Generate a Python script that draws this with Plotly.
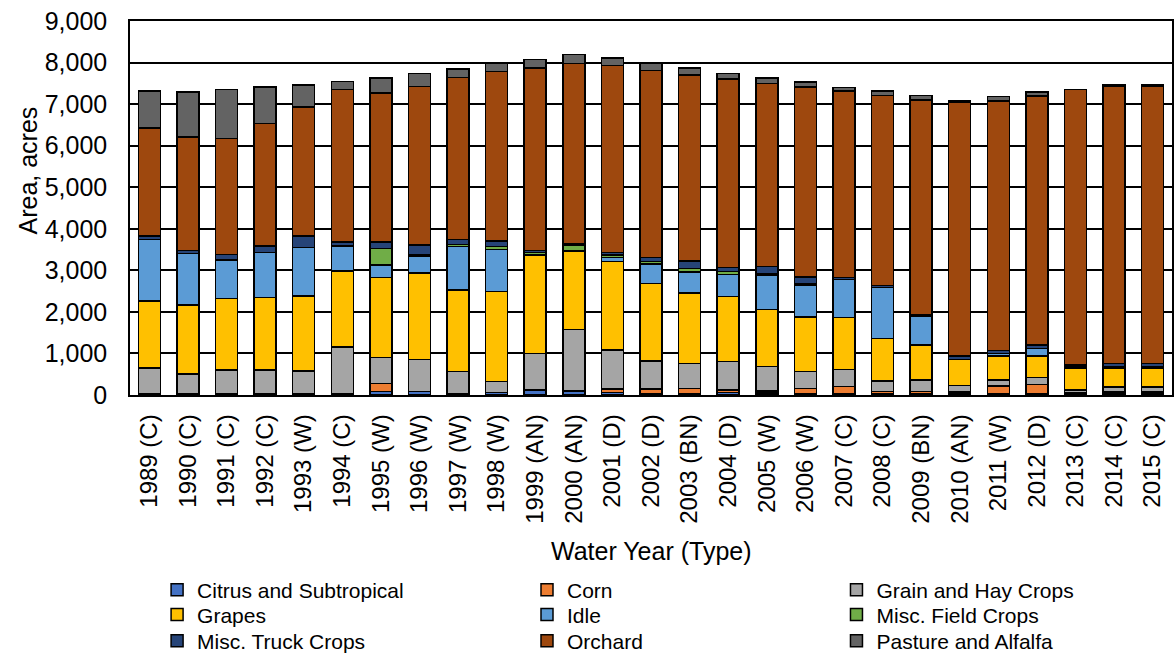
import plotly.graph_objects as go

years = ["1989 (C)", "1990 (C)", "1991 (C)", "1992 (C)", "1993 (W)", "1994 (C)", "1995 (W)",
         "1996 (W)", "1997 (W)", "1998 (W)", "1999 (AN)", "2000 (AN)", "2001 (D)", "2002 (D)",
         "2003 (BN)", "2004 (D)", "2005 (W)", "2006 (W)", "2007 (C)", "2008 (C)", "2009 (BN)",
         "2010 (AN)", "2011 (W)", "2012 (D)", "2013 (C)", "2014 (C)", "2015 (C)"]

citrus = [30, 30, 30, 30, 30, 30, 90, 80, 40, 60, 120, 100, 60, 40, 30, 60, 50, 40, 40, 40, 40, 50, 30, 40, 30, 50, 50]
corn = [0, 0, 0, 0, 0, 0, 190, 0, 0, 0, 0, 0, 80, 110, 130, 60, 50, 120, 160, 40, 40, 40, 187, 210, 20, 30, 30]
grain_hay = [625, 470, 570, 570, 550, 1130, 620, 780, 520, 260, 880, 1480, 943, 668, 600, 682, 581, 400, 418, 257, 281, 134, 144, 175, 70, 110, 110]
grapes = [1610, 1670, 1725, 1750, 1800, 1830, 1925, 2070, 1965, 2165, 2365, 1890, 2125, 1869, 1699, 1564, 1381, 1323, 1251, 1027, 842, 635, 577, 513, 520, 457, 457]
idle = [1480, 1240, 920, 1080, 1170, 595, 300, 415, 1045, 1020, 0, 0, 100, 465, 505, 538, 825, 763, 914, 1227, 697, 0, 60, 185, 30, 30, 30]
misc_field = [0, 0, 0, 0, 0, 0, 400, 40, 50, 70, 70, 140, 60, 60, 81, 70, 30, 40, 0, 0, 0, 0, 0, 0, 0, 0, 0]
misc_truck = [80, 70, 140, 150, 280, 100, 160, 225, 120, 130, 40, 25, 60, 92, 184, 98, 171, 159, 48, 39, 41, 79, 68, 80, 52, 76, 76]
orchard = [2600, 2725, 2790, 2952, 3104, 3666, 3584, 3810, 3906, 4074, 4400, 4345, 4500, 4499, 4467, 4531, 4410, 4572, 4483, 4580, 5164, 6113, 6008, 5991, 6633, 6676, 6676]
pasture = [890, 1090, 1180, 880, 520, 190, 365, 320, 200, 200, 200, 215, 177, 177, 177, 136, 136, 120, 88, 104, 97, 30, 104, 96, 0, 30, 30]

series_names = ["Citrus and Subtropical", "Corn", "Grain and Hay Crops",
                "Grapes", "Idle", "Misc. Field Crops",
                "Misc. Truck Crops", "Orchard", "Pasture and Alfalfa"]
series_values = [citrus, corn, grain_hay, grapes, idle, misc_field, misc_truck, orchard, pasture]
series_colors = ["#4472C4", "#ED7D31", "#A5A5A5", "#FFC000", "#5B9BD5", "#70AD47",
                 "#264478", "#9E480E", "#636363"]

font_family = "Liberation Sans, Arial, sans-serif"

# legend grid: 3 columns x 3 rows (row-major order of the series)
col_x = [0.026, 0.381, 0.678]
row_y = [-0.5214, -0.588, -0.6578]

fig = go.Figure()
legend_layouts = {}
for i, (name, vals, color) in enumerate(zip(series_names, series_values, series_colors)):
    lg = "legend" if i == 0 else f"legend{i + 1}"
    fig.add_trace(go.Bar(
        x=years, y=vals, name=name, legend=lg, showlegend=True,
        marker=dict(color=color, line=dict(color="#000000", width=1.5)),
    ))
    legend_layouts[lg] = dict(
        x=col_x[i % 3], y=row_y[i // 3],
        orientation="v", yanchor="middle", xanchor="left",
        font=dict(family=font_family, size=21, color="#000000"),
        bgcolor="rgba(0,0,0,0)", itemwidth=30,
    )

fig.update_layout(
    width=1174, height=656,
    showlegend=True,
    barmode="stack", bargap=0.43,
    plot_bgcolor="#FFFFFF", paper_bgcolor="#FFFFFF",
    margin=dict(l=130, r=2, t=21, b=261, autoexpand=False),
    font=dict(family=font_family, size=24, color="#000000"),
    xaxis=dict(
        type="category", tickangle=-90, showgrid=False,
        showline=True, linecolor="#000000", linewidth=1.5, mirror=True,
        ticks="", tickfont=dict(size=24, color="#000000"),
        ticklabelstandoff=8, automargin=False,
    ),
    yaxis=dict(
        range=[0, 9000], tickvals=[0, 1000, 2000, 3000, 4000, 5000, 6000, 7000, 8000, 9000],
        tickformat=",d", showgrid=True, gridcolor="#000000", gridwidth=1.5,
        showline=True, linecolor="#000000", linewidth=1.5, mirror=True,
        ticks="", tickfont=dict(size=25, color="#000000"),
        ticklabelstandoff=16, zeroline=False, automargin=False,
    ),
    annotations=[
        dict(text="Area, acres", xref="paper", yref="paper", x=-0.098, y=0.60,
             xanchor="center", yanchor="middle", textangle=-90, showarrow=False,
             font=dict(family=font_family, size=25, color="#000000")),
        dict(text="Water Year (Type)", xref="paper", yref="paper", x=0.5, y=-0.417,
             xanchor="center", yanchor="middle", showarrow=False,
             font=dict(family=font_family, size=25, color="#000000")),
    ],
    **legend_layouts,
)

fig.write_html(
    "out.html",
    config={"displayModeBar": False},
    post_script="document.body.style.margin='0px';document.body.style.overflow='hidden';",
)
